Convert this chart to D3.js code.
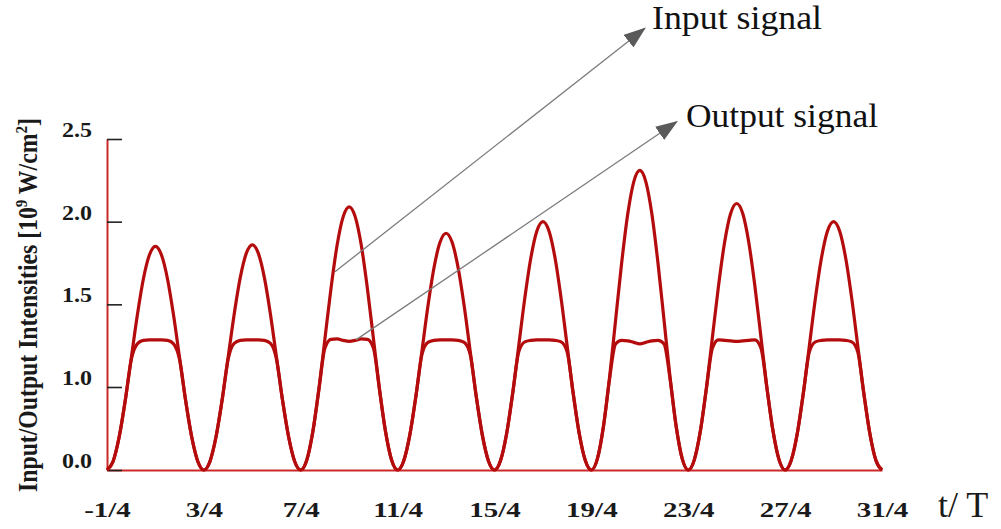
<!DOCTYPE html>
<html lang="en">
<head>
<meta charset="UTF-8">
<title>Input/Output Intensities</title>
<script src="https://d3js.org/d3.v7.min.js"></script>
<style>
  body { margin: 0; background: #fff; }
  svg { display: block; }
  text { font-family: "Liberation Serif", "Times New Roman", serif; }
</style>
</head>
<body>
<script>
// intensities sampled every T/16, first sample at t = -T/4
const tStart = -0.25;
const tStep = 1 / 16;

const inputSignal = [
  0, 0.103, 0.394, 0.830, 1.173, 1.432, 1.652, 1.798, 1.850, 1.798, 1.652, 1.432, 1.173, 0.830, 0.394, 0.103,
  0, 0.103, 0.397, 0.836, 1.178, 1.439, 1.660, 1.808, 1.860, 1.808, 1.660, 1.439, 1.178, 0.836, 0.397, 0.103,
  0, 0.121, 0.464, 0.978, 1.294, 1.598, 1.857, 2.029, 2.090, 2.029, 1.857, 1.598, 1.294, 0.978, 0.464, 0.121,
  0, 0.109, 0.417, 0.879, 1.213, 1.488, 1.720, 1.875, 1.930, 1.875, 1.720, 1.488, 1.213, 0.879, 0.417, 0.109,
  0, 0.114, 0.437, 0.922, 1.248, 1.536, 1.780, 1.943, 2.000, 1.943, 1.780, 1.536, 1.248, 0.922, 0.437, 0.114,
  0, 0.137, 0.528, 1.057, 1.404, 1.750, 2.045, 2.241, 2.310, 2.241, 2.045, 1.750, 1.404, 1.057, 0.528, 0.137,
  0, 0.122, 0.469, 0.990, 1.304, 1.612, 1.874, 2.049, 2.110, 2.049, 1.874, 1.612, 1.304, 0.990, 0.469, 0.122,
  0, 0.114, 0.437, 0.922, 1.248, 1.536, 1.780, 1.943, 2.000, 1.943, 1.780, 1.536, 1.248, 0.922, 0.437, 0.114,
  0
];

const outputSignal = [
  0, 0.103, 0.394, 0.830, 1.164, 1.261, 1.282, 1.285, 1.285, 1.285, 1.282, 1.261, 1.164, 0.830, 0.394, 0.103,
  0, 0.103, 0.397, 0.836, 1.167, 1.264, 1.282, 1.285, 1.285, 1.285, 1.282, 1.264, 1.167, 0.836, 0.397, 0.103,
  0, 0.121, 0.464, 0.970, 1.236, 1.288, 1.291, 1.282, 1.276, 1.282, 1.291, 1.288, 1.236, 0.970, 0.464, 0.121,
  0, 0.109, 0.417, 0.879, 1.194, 1.270, 1.282, 1.285, 1.285, 1.285, 1.282, 1.270, 1.194, 0.879, 0.417, 0.109,
  0, 0.114, 0.437, 0.922, 1.212, 1.273, 1.282, 1.285, 1.285, 1.285, 1.282, 1.273, 1.212, 0.922, 0.437, 0.114,
  0, 0.137, 0.528, 1.048, 1.261, 1.282, 1.279, 1.270, 1.261, 1.270, 1.279, 1.282, 1.261, 1.048, 0.528, 0.137,
  0, 0.122, 0.469, 0.982, 1.236, 1.285, 1.282, 1.279, 1.276, 1.279, 1.282, 1.285, 1.236, 0.982, 0.469, 0.122,
  0, 0.114, 0.437, 0.922, 1.212, 1.273, 1.282, 1.285, 1.285, 1.285, 1.282, 1.273, 1.212, 0.922, 0.437, 0.114,
  0
];

const xTicks = [-0.25, 0.75, 1.75, 2.75, 3.75, 4.75, 5.75, 6.75, 7.75];
const xTickLabels = ["-1/4", "3/4", "7/4", "11/4", "15/4", "19/4", "23/4", "27/4", "31/4"];
const yTicks = [0, 1.0, 1.5, 2.0, 2.5];
// the axis jumps from 0.0 straight to 1.0, then runs evenly to 2.5
const yBreaks = [0, 1, 2.5];

// arrows: [t, intensity] of the tail and of the head
const annotations = [
  { label: "Input signal",  from: [2.103, 1.697], to: [5.304, 3.17],  dx: 7, dy: 1, len: 170 },
  { label: "Output signal", from: [2.320, 1.285], to: [5.634, 2.606], dx: 9, dy: 6, len: 192 }
];

const width = 1001, height = 529;

const svg = d3.select("body").append("svg")
  .attr("width", width)
  .attr("height", height);

const x = d3.scaleLinear().domain([-0.25, 7.75]).range([107, 882]);
const y = d3.scaleLinear().domain(yBreaks).range([470, 387, 139]);

const red = "#b40c0c";

// stretch text horizontally a bit, the labels in the figure are wide
function widen(sel, k) {
  sel.each(function() {
    const w = this.getComputedTextLength();
    d3.select(this).attr("textLength", w * k).attr("lengthAdjust", "spacingAndGlyphs");
  });
}

// x axis
const gx = svg.append("g")
  .attr("transform", `translate(0,${y(0)})`)
  .call(d3.axisBottom(x)
    .tickValues(xTicks)
    .tickFormat((d, i) => xTickLabels[i])
    .tickSize(0)
    .tickSizeOuter(0)
    .tickPadding(32));
gx.select(".domain").attr("stroke", "#cc2a2a").attr("stroke-width", 2);
gx.selectAll("text")
  .attr("fill", "#1a1a1a")
  .style("font-size", "21px")
  .style("font-weight", "bold")
  .call(widen, 1.38);

// y axis, ticks point inward
const gy = svg.append("g")
  .attr("transform", `translate(${x(-0.25)},0)`)
  .call(d3.axisLeft(y)
    .tickValues(yTicks)
    .tickFormat(d3.format(".1f"))
    .tickSize(-15)
    .tickSizeOuter(0)
    .tickPadding(15));
gy.select(".domain").attr("stroke", "#cc2a2a").attr("stroke-width", 2);
gy.selectAll(".tick line").attr("stroke", "#222").attr("stroke-width", 1.6);
gy.selectAll("text")
  .attr("fill", "#1a1a1a")
  .attr("dy", "-0.12em")
  .style("font-size", "20px")
  .style("font-weight", "bold")
  .call(widen, 1.2);

// y title
const titleG = svg.append("g").attr("transform", "translate(37,305) rotate(-90)");
const title = titleG.append("text")
  .attr("text-anchor", "middle")
  .attr("fill", "#1a1a1a")
  .style("font-size", "22px")
  .style("font-weight", "bold");
title.append("tspan").text("Input/Output Intensities [10");
title.append("tspan").attr("dy", -8).style("font-size", "14px").text("9");
title.append("tspan").attr("dy", 8).text(" W/cm");
title.append("tspan").attr("dy", -8).style("font-size", "14px").text("2");
title.append("tspan").attr("dy", 8).text("]");
const titleLen = title.node().getComputedTextLength();
title.attr("transform", `scale(${374 / titleLen},1.22)`);

// x title
svg.append("text")
  .attr("x", x(7.75) + 56)
  .attr("y", y(0) + 47)
  .attr("fill", "#1a1a1a")
  .style("font-size", "36px")
  .text("t/ T");

// signals
const line = d3.line()
  .x((d, i) => x(tStart + i * tStep))
  .y(d => y(d))
  .curve(d3.curveMonotoneX);

svg.append("path")
  .datum(inputSignal)
  .attr("fill", "none")
  .attr("stroke", red)
  .attr("stroke-width", 3.2)
  .attr("stroke-linejoin", "round")
  .attr("d", line);

svg.append("path")
  .datum(outputSignal)
  .attr("fill", "none")
  .attr("stroke", red)
  .attr("stroke-width", 3.2)
  .attr("stroke-linejoin", "round")
  .attr("d", line);

// arrows and their labels
svg.append("defs").append("marker")
  .attr("id", "head")
  .attr("markerUnits", "userSpaceOnUse")
  .attr("markerWidth", 22)
  .attr("markerHeight", 16)
  .attr("refX", 21)
  .attr("refY", 8)
  .attr("orient", "auto")
  .append("path")
  .attr("d", "M0,0 L22,8 L0,16 Z")
  .attr("fill", "#5a5a5a");

annotations.forEach(a => {
  svg.append("line")
    .attr("x1", x(a.from[0])).attr("y1", y(a.from[1]))
    .attr("x2", x(a.to[0])).attr("y2", y(a.to[1]))
    .attr("stroke", "#7c7c7c")
    .attr("stroke-width", 1.3)
    .attr("marker-end", "url(#head)");
  svg.append("text")
    .attr("x", x(a.to[0]) + a.dx)
    .attr("y", y(a.to[1]) + a.dy)
    .attr("fill", "#111")
    .style("font-size", "33px")
    .attr("textLength", a.len)
    .attr("lengthAdjust", "spacingAndGlyphs")
    .text(a.label);
});
</script>
</body>
</html>
